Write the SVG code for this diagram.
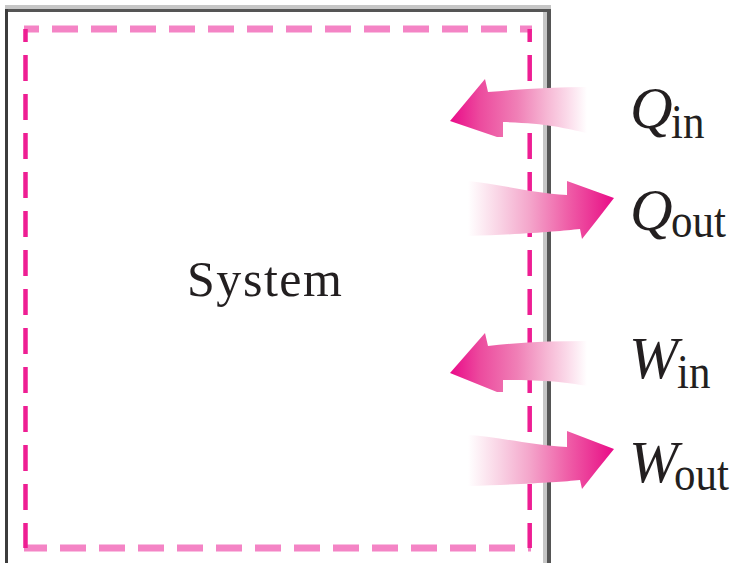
<svg xmlns="http://www.w3.org/2000/svg" width="736" height="563" viewBox="0 0 736 563">
  <defs>
    <!-- energy entering: strong at the head, fading toward the tail -->
    <linearGradient id="gradIn" gradientUnits="userSpaceOnUse" x1="450" y1="0" x2="587" y2="0">
      <stop offset="0" stop-color="#ea0a89"/>
      <stop offset="0.22" stop-color="#ec4b9e"/>
      <stop offset="0.49" stop-color="#f07fb6"/>
      <stop offset="0.70" stop-color="#f6b5d3"/>
      <stop offset="0.86" stop-color="#fbdbea"/>
      <stop offset="1" stop-color="#ffffff"/>
    </linearGradient>
    <!-- energy leaving: faint at the tail, strong at the head -->
    <linearGradient id="gradOut" gradientUnits="userSpaceOnUse" x1="468" y1="0" x2="614" y2="0">
      <stop offset="0" stop-color="#ffffff"/>
      <stop offset="0.08" stop-color="#fdeff5"/>
      <stop offset="0.22" stop-color="#f9d2e4"/>
      <stop offset="0.42" stop-color="#f4a6cb"/>
      <stop offset="0.68" stop-color="#ef5fa8"/>
      <stop offset="0.9" stop-color="#ea2790"/>
      <stop offset="1" stop-color="#ea0a89"/>
    </linearGradient>
  </defs>
  <style>
    .frame-light { fill: #c6c6c6; }
    .frame-dark { fill: #555555; }
    .frame-left { fill: #3c3c3c; }
    .bound-h { stroke: #f484c5; stroke-width: 7; fill: none; stroke-dasharray: 26 13; }
    .bound-v { stroke: #ee1e93; stroke-width: 4.5; fill: none; stroke-dasharray: 26 13; stroke-dashoffset: 13; }
    .arrow-in { fill: url(#gradIn); }
    .arrow-out { fill: url(#gradOut); }
    .label { font-family: "Liberation Serif", "Times New Roman", serif; fill: #231f20; }
    .sym { font-style: italic; font-size: 59px; }
    .sub { font-size: 43px; }
    .sys { font-size: 50px; }
  </style>

  <rect width="736" height="563" fill="#ffffff"/>

  <!-- surroundings: shaded frame on top, left and right -->
  <g id="frame">
    <rect class="frame-light" x="5" y="5" width="546" height="4"/>
    <rect class="frame-dark" x="5" y="9" width="542" height="3"/>
    <rect class="frame-left" x="5" y="9" width="3" height="554"/>
    <rect class="frame-light" x="543" y="12" width="4" height="551"/>
    <rect class="frame-dark" x="547" y="9" width="4" height="554"/>
  </g>

  <!-- system boundary (dashed) -->
  <g id="boundary">
    <line class="bound-h" x1="24" y1="29" x2="532" y2="29" stroke-dashoffset="11"/>
    <line class="bound-h" x1="24" y1="548" x2="531" y2="548" stroke-dashoffset="3"/>
    <line class="bound-v" x1="25.5" y1="29" x2="25.5" y2="548"/>
    <line class="bound-v" x1="529.7" y1="29" x2="529.7" y2="548"/>
  </g>

  <!-- heat and work arrows crossing the boundary -->
  <g id="connectors">
    <path id="arrow-qin" class="arrow-in" d="M450,121 L485,79 L488,92 C520,89 555,87 587,87 L587,133 C565,128 545,123 503,122 L503,137 L497,137 Z"/>
    <path id="arrow-qout" class="arrow-out" d="M468,181 C500,184 530,193 567,195 L567,181 L614,198 L597,220 L582,239 L580,229 C560,231 530,234 468,236 Z"/>
    <path id="arrow-win" class="arrow-in" d="M450,373 L485,333 L488,346 C520,342 555,341 587,341 L587,386 C565,382 545,380 503,380 L503,392 L497,392 Z"/>
    <path id="arrow-wout" class="arrow-out" d="M468,435 C500,437 530,445 567,447 L567,431 L614,449 L597,470 L582,489 L580,480 C560,482 530,484 468,486 Z"/>
  </g>

  <g id="system">
    <text class="label sys" x="187" y="296" textLength="155" lengthAdjust="spacing">System</text>
  </g>

  <g id="q-in">
    <text class="label sym" x="630" y="128">Q</text>
    <text class="label sub" transform="translate(671,138) scale(1,1.15)">in</text>
  </g>
  <g id="q-out">
    <text class="label sym" x="630" y="230">Q</text>
    <text class="label sub" transform="translate(671,237) scale(1,1.15)">out</text>
  </g>
  <g id="w-in">
    <text class="label sym" x="629" y="378">W</text>
    <text class="label sub" transform="translate(677,388) scale(1,1.15)">in</text>
  </g>
  <g id="w-out">
    <text class="label sym" x="629" y="482">W</text>
    <text class="label sub" transform="translate(674,490) scale(1,1.15)">out</text>
  </g>
</svg>
